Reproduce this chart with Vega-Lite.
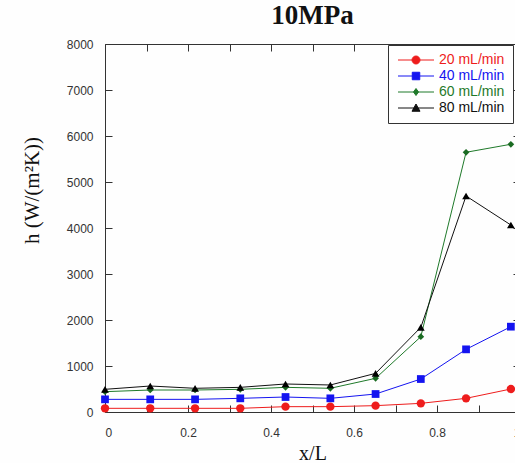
{
  "$schema": "https://vega.github.io/schema/vega-lite/v6.json",
  "width": 415,
  "height": 368,
  "autosize": "none",
  "padding": {"left": 105, "top": 44, "right": -5, "bottom": 51},
  "background": "#fefefe",
  "title": {"text": "10MPa", "font": "Liberation Serif", "fontSize": 27, "fontWeight": "bold", "color": "#111111", "anchor": "middle", "frame": "group", "offset": 8},
  "config": {
    "view": {"stroke": "#333333", "strokeWidth": 1},
    "axis": {"domain": false, "grid": false, "tickColor": "#333333", "tickSize": -7, "labelFont": "Liberation Sans", "labelFontSize": 12, "labelColor": "#333333", "titleFont": "Liberation Serif", "titleFontWeight": "normal", "titleFontSize": 21, "titleColor": "#111111"}
  },
  "data": {"values": [
    {"x": 0, "h": 80, "s": "20 mL/min"},
    {"x": 0.109, "h": 80, "s": "20 mL/min"},
    {"x": 0.217, "h": 80, "s": "20 mL/min"},
    {"x": 0.326, "h": 80, "s": "20 mL/min"},
    {"x": 0.435, "h": 116, "s": "20 mL/min"},
    {"x": 0.543, "h": 116, "s": "20 mL/min"},
    {"x": 0.652, "h": 138, "s": "20 mL/min"},
    {"x": 0.761, "h": 188, "s": "20 mL/min"},
    {"x": 0.870, "h": 297, "s": "20 mL/min"},
    {"x": 0.978, "h": 500, "s": "20 mL/min"},
    {"x": 0, "h": 275, "s": "40 mL/min"},
    {"x": 0.109, "h": 275, "s": "40 mL/min"},
    {"x": 0.217, "h": 275, "s": "40 mL/min"},
    {"x": 0.326, "h": 297, "s": "40 mL/min"},
    {"x": 0.435, "h": 326, "s": "40 mL/min"},
    {"x": 0.543, "h": 297, "s": "40 mL/min"},
    {"x": 0.652, "h": 391, "s": "40 mL/min"},
    {"x": 0.761, "h": 717, "s": "40 mL/min"},
    {"x": 0.870, "h": 1362, "s": "40 mL/min"},
    {"x": 0.978, "h": 1855, "s": "40 mL/min"},
    {"x": 0, "h": 442, "s": "60 mL/min"},
    {"x": 0.109, "h": 478, "s": "60 mL/min"},
    {"x": 0.217, "h": 478, "s": "60 mL/min"},
    {"x": 0.326, "h": 493, "s": "60 mL/min"},
    {"x": 0.435, "h": 536, "s": "60 mL/min"},
    {"x": 0.543, "h": 515, "s": "60 mL/min"},
    {"x": 0.652, "h": 732, "s": "60 mL/min"},
    {"x": 0.761, "h": 1637, "s": "60 mL/min"},
    {"x": 0.870, "h": 5646, "s": "60 mL/min"},
    {"x": 0.978, "h": 5820, "s": "60 mL/min"},
    {"x": 0, "h": 493, "s": "80 mL/min"},
    {"x": 0.109, "h": 565, "s": "80 mL/min"},
    {"x": 0.217, "h": 515, "s": "80 mL/min"},
    {"x": 0.326, "h": 536, "s": "80 mL/min"},
    {"x": 0.435, "h": 609, "s": "80 mL/min"},
    {"x": 0.543, "h": 587, "s": "80 mL/min"},
    {"x": 0.652, "h": 840, "s": "80 mL/min"},
    {"x": 0.761, "h": 1841, "s": "80 mL/min"},
    {"x": 0.870, "h": 4696, "s": "80 mL/min"},
    {"x": 0.978, "h": 4065, "s": "80 mL/min"}
  ]},
  "layer": [
    {
      "mark": {"type": "line", "strokeWidth": 1},
      "encoding": {
        "x": {"field": "x", "type": "quantitative", "scale": {"domain": [0, 1], "nice": false}, "axis": {"orient": "bottom", "title": "x/L", "values": [0, 0.1, 0.2, 0.3, 0.4, 0.5, 0.6, 0.7, 0.8, 0.9, 1], "labelExpr": "round(datum.value*10) % 2 == 0 ? format(datum.value, '~g') : ''", "labelPadding": 22, "titlePadding": 5, "titleFontSize": 20}},
        "y": {"field": "h", "type": "quantitative", "scale": {"domain": [0, 8000], "nice": false}, "axis": {"orient": "left", "title": "h (W/(m²K))", "format": "d", "values": [0, 1000, 2000, 3000, 4000, 5000, 6000, 7000, 8000], "labelPadding": 19, "titlePadding": 24, "titleY": 146}},
        "color": {"field": "s", "type": "nominal", "scale": {"domain": ["20 mL/min", "40 mL/min", "60 mL/min", "80 mL/min"], "range": ["#ee1c1c", "#1414f0", "#1f7a2a", "#111111"]},
          "legend": {
            "title": null, "orient": "none", "legendX": 283, "legendY": 1,
            "padding": 8, "strokeColor": "#333333", "fillColor": "#ffffff",
            "labelFont": "Liberation Sans", "labelFontSize": 14, "rowPadding": 2,
            "symbolSize": 100, "symbolOffset": 13, "labelOffset": 16, "symbolStrokeWidth": 1,
            "encode": {
              "symbols": {"update": {
                "shape": {"signal": "datum.value == '20 mL/min' ? 'M-3.6,0H3.6M-0.8,0A0.8,0.8 0 1,1 0.8,0A0.8,0.8 0 1,1 -0.8,0Z' : datum.value == '40 mL/min' ? 'M-3.6,0H3.6M-0.75,-0.75H0.75V0.75H-0.75Z' : datum.value == '60 mL/min' ? 'M-3.6,0H3.6M0,-0.7L0.5,0L0,0.7L-0.5,0Z' : 'M-3.6,0H3.6M0,-0.8L0.8,0.65H-0.8Z'"},
                "fill": {"signal": "scale('color', datum.value)"},
                "stroke": {"signal": "scale('color', datum.value)"},
                "opacity": {"value": 1}
              }},
              "labels": {"update": {"fill": {"signal": "scale('color', datum.value)"}}}
            }
          }
        }
      }
    },
    {
      "transform": [{"filter": "datum.s == '20 mL/min'"}],
      "mark": {"type": "point", "shape": "circle", "filled": true, "opacity": 1, "size": 70, "color": "#ee1c1c"},
      "encoding": {
        "x": {"field": "x", "type": "quantitative", "axis": null},
        "y": {"field": "h", "type": "quantitative", "axis": null}
      }
    },
    {
      "transform": [{"filter": "datum.s == '40 mL/min'"}],
      "mark": {"type": "point", "shape": "square", "filled": true, "opacity": 1, "size": 60, "color": "#1414f0"},
      "encoding": {
        "x": {"field": "x", "type": "quantitative", "axis": null},
        "y": {"field": "h", "type": "quantitative", "axis": null}
      }
    },
    {
      "transform": [{"filter": "datum.s == '60 mL/min'"}],
      "mark": {"type": "point", "shape": "diamond", "filled": true, "opacity": 1, "size": 45, "color": "#1a6b22"},
      "encoding": {
        "x": {"field": "x", "type": "quantitative", "axis": null},
        "y": {"field": "h", "type": "quantitative", "axis": null}
      }
    },
    {
      "transform": [{"filter": "datum.s == '80 mL/min'"}],
      "mark": {"type": "point", "shape": "triangle-up", "filled": true, "opacity": 1, "size": 60, "color": "#000000"},
      "encoding": {
        "x": {"field": "x", "type": "quantitative", "axis": null},
        "y": {"field": "h", "type": "quantitative", "axis": null}
      }
    },
    {
      "mark": {"type": "point", "opacity": 0},
      "encoding": {
        "x": {"field": "x", "type": "quantitative", "axis": {"orient": "top", "title": null, "labels": false, "values": [0, 0.1, 0.2, 0.3, 0.4, 0.5, 0.6, 0.7, 0.8, 0.9, 1]}},
        "y": {"field": "h", "type": "quantitative", "axis": {"orient": "right", "title": null, "labels": false, "values": [0, 1000, 2000, 3000, 4000, 5000, 6000, 7000, 8000]}}
      }
    }
  ],
  "resolve": {"axis": {"x": "independent", "y": "independent"}}
}
